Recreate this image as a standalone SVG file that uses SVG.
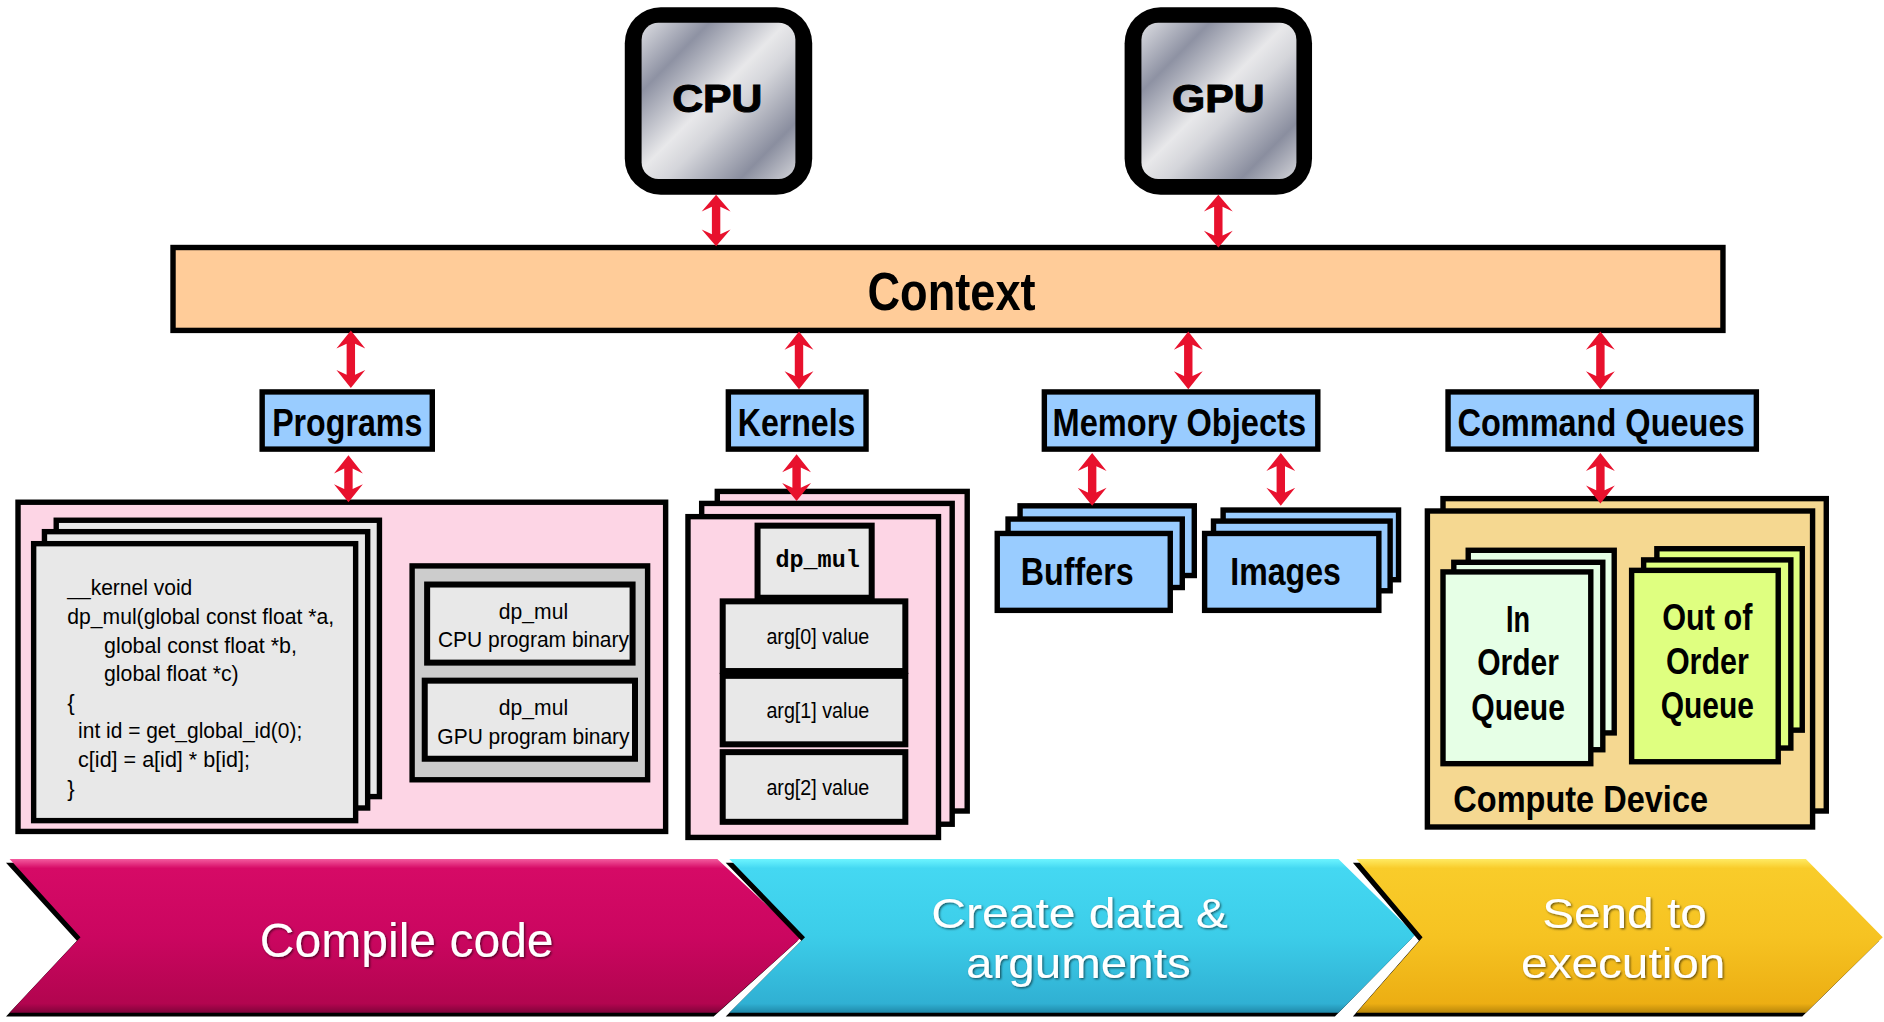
<svg xmlns="http://www.w3.org/2000/svg" width="1884" height="1022" viewBox="0 0 1884 1022">
<style>
.b{stroke:#000;stroke-width:4.5}
.lbl{font-family:"Liberation Sans",Arial,sans-serif;font-weight:bold;text-anchor:middle;fill:#000}
.t{font-family:"Liberation Sans",Arial,sans-serif;fill:#000}
.mid{text-anchor:middle}
.ban{font-family:"Liberation Sans",Arial,sans-serif;fill:#fff;text-anchor:middle}
.arr{fill:#E8112D}
.pink{fill:#FDD5E5}
.blue{fill:#99CCFF}
.gray{fill:#E8E8E8}
.heavy{stroke:#000;stroke-width:0.9}
</style>
<defs>
<linearGradient id="chip" x1="0" y1="0" x2="1" y2="1">
<stop offset="0" stop-color="#dcdde2"/>
<stop offset="0.22" stop-color="#8e92a3"/>
<stop offset="0.47" stop-color="#e8e8ea"/>
<stop offset="0.58" stop-color="#d4d5da"/>
<stop offset="0.82" stop-color="#8a8e9f"/>
<stop offset="1" stop-color="#d2d3d8"/>
</linearGradient>
<linearGradient id="gM" x1="0" y1="0" x2="0" y2="1">
<stop offset="0" stop-color="#F35A9E"/>
<stop offset="0.06" stop-color="#D60A66"/>
<stop offset="0.5" stop-color="#CB0660"/>
<stop offset="0.94" stop-color="#B2054F"/>
<stop offset="1" stop-color="#80033A"/>
</linearGradient>
<linearGradient id="gC" x1="0" y1="0" x2="0" y2="1">
<stop offset="0" stop-color="#6CF4FF"/>
<stop offset="0.06" stop-color="#44D8F2"/>
<stop offset="0.5" stop-color="#3CCDE9"/>
<stop offset="0.94" stop-color="#30B0D3"/>
<stop offset="1" stop-color="#1F88A8"/>
</linearGradient>
<linearGradient id="gY" x1="0" y1="0" x2="0" y2="1">
<stop offset="0" stop-color="#FFEA62"/>
<stop offset="0.06" stop-color="#F9CC2A"/>
<stop offset="0.5" stop-color="#F6C322"/>
<stop offset="0.94" stop-color="#ECAE13"/>
<stop offset="1" stop-color="#B8860A"/>
</linearGradient>
<filter id="ts" x="-10%" y="-20%" width="120%" height="140%">
<feDropShadow dx="1" dy="1" stdDeviation="1" flood-color="#000" flood-opacity="0.6"/>
</filter>
</defs>
<rect width="1884" height="1022" fill="#fff"/>
<g transform="scale(1.2015)">

<g id="cpu">
<rect x="520" y="6" width="156" height="156" rx="30" fill="#000"/>
<rect x="534" y="19" width="128" height="130" rx="14" fill="url(#chip)"/>
<text class="lbl heavy" x="597" y="93" font-size="33" textLength="75" lengthAdjust="spacingAndGlyphs">CPU</text>
</g>
<g id="gpu">
<rect x="936" y="6" width="156" height="156" rx="30" fill="#000"/>
<rect x="950" y="19" width="129" height="130" rx="14" fill="url(#chip)"/>
<text class="lbl heavy" x="1014" y="93" font-size="33" textLength="77" lengthAdjust="spacingAndGlyphs">GPU</text>
</g>
<g id="context">
<rect class="b" x="144" y="206" width="1290" height="69" fill="#FFCC99"/>
<text class="lbl" x="792" y="258" font-size="44" textLength="140" lengthAdjust="spacingAndGlyphs">Context</text>
</g>
<g id="programs">
<rect class="b blue" x="218.2" y="326.2" width="141.6" height="47.6"/>
<text class="lbl" x="289" y="362.5" font-size="33" textLength="125" lengthAdjust="spacingAndGlyphs">Programs</text>
</g>
<g id="kernels">
<rect class="b blue" x="606.2" y="326.2" width="114.6" height="47.6"/>
<text class="lbl" x="663" y="362.5" font-size="33" textLength="98" lengthAdjust="spacingAndGlyphs">Kernels</text>
</g>
<g id="memory-objects">
<rect class="b blue" x="869.2" y="326.2" width="227.6" height="47.6"/>
<text class="lbl" x="981.5" y="362.5" font-size="33" textLength="211" lengthAdjust="spacingAndGlyphs">Memory Objects</text>
</g>
<g id="command-queues">
<rect class="b blue" x="1205.2" y="326.2" width="256.6" height="47.6"/>
<text class="lbl" x="1332.5" y="362.5" font-size="33" textLength="239" lengthAdjust="spacingAndGlyphs">Command Queues</text>
</g>

<g id="program-objects">
<rect class="b pink" x="15" y="418" width="539" height="274"/>
<rect class="b gray" x="46.8" y="433" width="269" height="230"/>
<rect class="b gray" x="37" y="442.5" width="269" height="230"/>
<rect class="b gray" x="28" y="452.5" width="268" height="230.5"/>
<g class="t" font-size="18.5">
<text x="56" y="495.5" textLength="104" lengthAdjust="spacingAndGlyphs">__kernel void</text>
<text x="56" y="519.3" textLength="222" lengthAdjust="spacingAndGlyphs">dp_mul(global const float *a,</text>
<text x="86.6" y="543.1" textLength="160.5" lengthAdjust="spacingAndGlyphs">global const float *b,</text>
<text x="86.6" y="566.9" textLength="112" lengthAdjust="spacingAndGlyphs">global float *c)</text>
<text x="56" y="590.7">{</text>
<text x="65" y="614.5" textLength="186.6" lengthAdjust="spacingAndGlyphs">int id = get_global_id(0);</text>
<text x="65" y="638.3" textLength="143" lengthAdjust="spacingAndGlyphs">c[id] = a[id] * b[id];</text>
<text x="56" y="662.1">}</text>
</g>
<rect class="b" x="343" y="471" width="196" height="178" fill="#CCCCCC"/>
<rect class="gray" x="355.5" y="486.5" width="171" height="65" stroke="#000" stroke-width="5"/>
<rect class="gray" x="353.5" y="566.5" width="175" height="65" stroke="#000" stroke-width="5"/>
<g class="t mid" font-size="18.5">
<text x="444" y="515" textLength="57.6" lengthAdjust="spacingAndGlyphs">dp_mul</text>
<text x="444" y="538.5" textLength="159" lengthAdjust="spacingAndGlyphs">CPU program binary</text>
<text x="444" y="595" textLength="57.6" lengthAdjust="spacingAndGlyphs">dp_mul</text>
<text x="444" y="619" textLength="160" lengthAdjust="spacingAndGlyphs">GPU program binary</text>
</g>
</g>

<g id="kernel-objects">
<rect class="b pink" x="597" y="409" width="208" height="266"/>
<rect class="b pink" x="584" y="419" width="208.5" height="267"/>
<rect class="b pink" x="572.6" y="430" width="208.5" height="267"/>
<rect class="gray" x="630.5" y="437.5" width="95" height="60" stroke="#000" stroke-width="5"/>
<rect class="gray" x="601.5" y="500.5" width="152" height="58" stroke="#000" stroke-width="5"/>
<rect class="gray" x="601.5" y="562.5" width="152" height="57" stroke="#000" stroke-width="5"/>
<rect class="gray" x="601.5" y="626" width="152" height="58" stroke="#000" stroke-width="5"/>
<text x="680.5" y="472" font-family="'Liberation Mono','Courier New',monospace" font-weight="bold" font-size="19.5" text-anchor="middle">dp_mul</text>
<g class="t mid" font-size="18">
<text x="680.7" y="536" textLength="85.6" lengthAdjust="spacingAndGlyphs">arg[0] value</text>
<text x="680.7" y="598" textLength="85.6" lengthAdjust="spacingAndGlyphs">arg[1] value</text>
<text x="680.7" y="662" textLength="85.6" lengthAdjust="spacingAndGlyphs">arg[2] value</text>
</g>
</g>

<g id="buffers">
<rect class="b blue" x="849" y="421" width="145" height="58"/>
<rect class="b blue" x="839" y="432" width="145" height="57"/>
<rect class="b blue" x="830" y="444" width="144" height="64"/>
<text class="lbl" x="896.6" y="487" font-size="32" textLength="94" lengthAdjust="spacingAndGlyphs">Buffers</text>
</g>
<g id="images">
<rect class="b blue" x="1018" y="424.5" width="146" height="58"/>
<rect class="b blue" x="1010" y="433.7" width="147" height="58"/>
<rect class="b blue" x="1002.6" y="444" width="145" height="64"/>
<text class="lbl" x="1070" y="487" font-size="32" textLength="92" lengthAdjust="spacingAndGlyphs">Images</text>
</g>

<g id="compute-device">
<rect class="b" x="1201" y="415" width="319" height="260" fill="#F5D891"/>
<rect class="b" x="1188" y="425.3" width="320.6" height="263" fill="#F5D891"/>
<text class="lbl" x="1209.6" y="676" font-size="31" style="text-anchor:start" textLength="212" lengthAdjust="spacingAndGlyphs">Compute Device</text>
</g>
<g id="in-order-queue">
<rect class="b" x="1222" y="458" width="121.5" height="152" fill="#E6FFE6"/>
<rect class="b" x="1210" y="468" width="124" height="156" fill="#E6FFE6"/>
<rect class="b" x="1201" y="476" width="123" height="159.6" fill="#E6FFE6"/>
<text class="lbl" x="1263.5" y="526" font-size="31" textLength="20" lengthAdjust="spacingAndGlyphs">In</text>
<text class="lbl" x="1263.5" y="562" font-size="31" textLength="68" lengthAdjust="spacingAndGlyphs">Order</text>
<text class="lbl" x="1263.5" y="599.6" font-size="31" textLength="78" lengthAdjust="spacingAndGlyphs">Queue</text>
</g>
<g id="out-of-order-queue">
<rect class="b" x="1379" y="456.7" width="121" height="151" fill="#DFFF80"/>
<rect class="b" x="1368" y="466" width="122.5" height="156.6" fill="#DFFF80"/>
<rect class="b" x="1358" y="474.7" width="122" height="159.3" fill="#DFFF80"/>
<text class="lbl" x="1421" y="524" font-size="31" textLength="75" lengthAdjust="spacingAndGlyphs">Out of</text>
<text class="lbl" x="1421" y="561.3" font-size="31" textLength="69" lengthAdjust="spacingAndGlyphs">Order</text>
<text class="lbl" x="1421" y="598" font-size="31" textLength="77.7" lengthAdjust="spacingAndGlyphs">Queue</text>
</g>

<g id="connectors" class="arr">
<path d="M596,162 L608,176 L599.5,172 L599.5,195 L608,191 L596,205 L584,191 L592.5,195 L592.5,172 L584,176 Z"/>
<path d="M1014,162 L1026,176 L1017.5,172 L1017.5,196 L1026,192 L1014,206 L1002,192 L1010.5,196 L1010.5,172 L1002,176 Z"/>
<path d="M292,275 L304,290 L295.5,286 L295.5,312 L304,308 L292,323 L280,308 L288.5,312 L288.5,286 L280,290 Z"/>
<path d="M665,276 L677,291 L668.5,287 L668.5,313 L677,309 L665,324 L653,309 L661.5,313 L661.5,287 L653,291 Z"/>
<path d="M989,276 L1001,291 L992.5,287 L992.5,313 L1001,309 L989,324 L977,309 L985.5,313 L985.5,287 L977,291 Z"/>
<path d="M1332,276 L1344,291 L1335.5,287 L1335.5,313 L1344,309 L1332,324 L1320,309 L1328.5,313 L1328.5,287 L1320,291 Z"/>
<path d="M290,379 L302,394 L293.5,390 L293.5,407 L302,403 L290,418 L278,403 L286.5,407 L286.5,390 L278,394 Z"/>
<path d="M663,378 L675,393 L666.5,389 L666.5,406 L675,402 L663,417 L651,402 L659.5,406 L659.5,389 L651,393 Z"/>
<path d="M909,377 L921,392 L912.5,388 L912.5,410 L921,406 L909,421 L897,406 L905.5,410 L905.5,388 L897,392 Z"/>
<path d="M1066,377 L1078,392 L1069.5,388 L1069.5,410 L1078,406 L1066,421 L1054,406 L1062.5,410 L1062.5,388 L1054,392 Z"/>
<path d="M1332,377 L1344,392 L1335.5,388 L1335.5,408 L1344,404 L1332,419 L1320,404 L1328.5,408 L1328.5,388 L1320,392 Z"/>
</g>

<g id="stage-compile">
<polygon points="5,718 594,718 664,783 594,846 5,846 64,783" fill="#000"/>
<polygon points="8,715 597,715 667,780 597,843 8,843 67,780" fill="url(#gM)"/>
<text class="ban" x="338.5" y="796.6" font-size="40" filter="url(#ts)">Compile code</text>
</g>
<g id="stage-create">
<polygon points="604,718 1111,718 1175,781 1111,846 604,846 667,783" fill="#000"/>
<polygon points="607,715 1114,715 1178,778 1114,843 607,843 670,780" fill="url(#gC)"/>
<text class="ban" x="898.5" y="772.5" font-size="36" textLength="247" lengthAdjust="spacingAndGlyphs" filter="url(#ts)">Create data &amp;</text>
<text class="ban" x="897.5" y="814" font-size="36" textLength="187" lengthAdjust="spacingAndGlyphs" filter="url(#ts)">arguments</text>
</g>
<g id="stage-send">
<polygon points="1126,718 1500,718 1564,783 1500,846 1126,846 1181,783" fill="#000"/>
<polygon points="1129,715 1503,715 1567,780 1503,843 1129,843 1184,780" fill="url(#gY)"/>
<text class="ban" x="1352" y="772.5" font-size="36" textLength="137" lengthAdjust="spacingAndGlyphs" filter="url(#ts)">Send to</text>
<text class="ban" x="1351" y="814" font-size="36" textLength="170" lengthAdjust="spacingAndGlyphs" filter="url(#ts)">execution</text>
</g>
</g>
</svg>
